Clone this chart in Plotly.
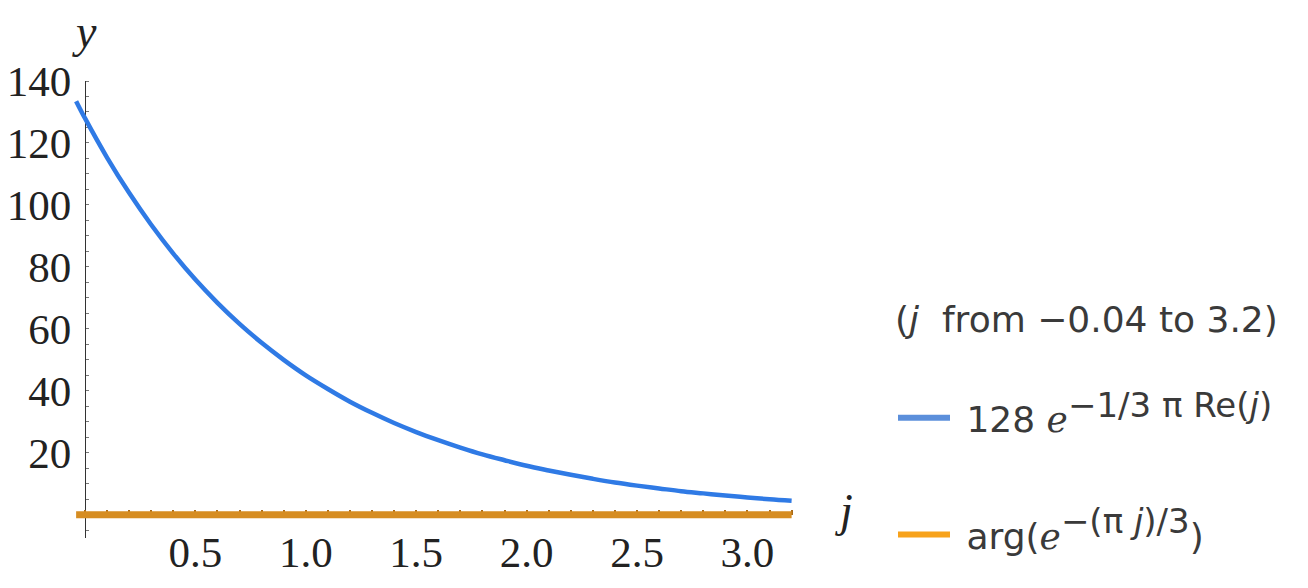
import plotly.graph_objects as go

# values
j_blue = [-0.04, 0.0, 0.1, 0.2, 0.3, 0.4, 0.5, 0.6, 0.7, 0.8, 0.9, 1.0, 1.1, 1.2, 1.3, 1.4,
          1.5, 1.6, 1.7, 1.8, 1.9, 2.0, 2.1, 2.2, 2.3, 2.4, 2.5, 2.6, 2.7, 2.8, 2.9, 3.0, 3.1, 3.2]
y_blue = [133.5, 128.0, 115.3, 103.9, 93.6, 84.3, 75.9, 68.4, 61.6, 55.5, 50.0, 45.0, 40.6, 36.5,
          32.9, 29.6, 26.7, 24.1, 21.7, 19.5, 17.6, 15.8, 14.3, 12.9, 11.6, 10.4, 9.4, 8.5, 7.6,
          6.9, 6.2, 5.6, 5.0, 4.5]
j_orange = [-0.04, 3.2]
y_orange = [0.0, 0.0]

x_ticks = [0.5, 1.0, 1.5, 2.0, 2.5, 3.0]
x_tick_labels = ["0.5", "1.0", "1.5", "2.0", "2.5", "3.0"]
x_minor_ticks = [0.0, 0.1, 0.2, 0.3, 0.4, 0.6, 0.7, 0.8, 0.9, 1.1, 1.2, 1.3, 1.4, 1.6, 1.7, 1.8, 1.9,
                 2.1, 2.2, 2.3, 2.4, 2.6, 2.7, 2.8, 2.9, 3.1, 3.2]
y_ticks = [20, 40, 60, 80, 100, 120, 140]
y_tick_labels = ["20", "40", "60", "80", "100", "120", "140"]

SUP = '<span style="font-size:34px">'
legend_title = '<span style="font-size:36px">(<i>j</i>  from −0.04 to 3.2)</span><br> '
name_blue = " 128 ℯ<sup>" + SUP + "−1/3 π Re(<i>j</i>)</span></sup>"
name_orange = " arg(ℯ<sup>" + SUP + "−(π <i>j</i>)/3</span></sup>)"

xr = [-0.113, 3.238]
yr = [-7.5, 140]

fig = go.Figure()
fig.add_trace(go.Scatter(x=j_blue, y=y_blue, mode="lines", line=dict(color="#2f7ae5", width=4.5, shape="spline"),
                         showlegend=False, hoverinfo="skip"))
fig.add_trace(go.Scatter(x=j_orange, y=y_orange, mode="lines", line=dict(color="#d68d22", width=7),
                         showlegend=False, hoverinfo="skip"))
# legend entries
fig.add_trace(go.Scatter(x=[None], y=[None], mode="lines", name=name_blue, legendgroup="a",
                         line=dict(color="#5b8fdb", width=6)))
fig.add_trace(go.Scatter(x=[None], y=[None], mode="lines", name=name_orange, legendgroup="b",
                         line=dict(color="#f7a21b", width=6)))

tickfont = dict(family="Liberation Serif", size=43, color="#222")
legfont = dict(family="DejaVu Sans", size=36, color="#3a3a3a")
fig.update_layout(
    template="none",
    width=1308, height=588,
    margin=dict(l=60, r=508, t=81, b=50, autoexpand=False),
    paper_bgcolor="white", plot_bgcolor="white",
    xaxis=dict(range=xr, anchor="free", position=(0 - yr[0]) / (yr[1] - yr[0]), automargin=False,
               tickvals=x_ticks, ticktext=x_tick_labels, tickfont=tickfont,
               showgrid=False, zeroline=False, showline=False,
               ticks="inside", ticklen=5, tickcolor="#a86a18", tickwidth=1.5,
               minor=dict(tickvals=x_minor_ticks, ticks="inside", ticklen=5, tickcolor="#a86a18", tickwidth=1.5),
               ticklabelstandoff=8, layer="below traces"),
    yaxis=dict(range=yr, anchor="free", position=(0 - xr[0]) / (xr[1] - xr[0]), automargin=False,
               tickvals=y_ticks, ticktext=y_tick_labels, tickfont=tickfont,
               showgrid=False, zeroline=False, showline=True, linecolor="#333", linewidth=1.3,
               ticks="", minor=dict(dtick=5, ticks="inside", ticklen=3, tickcolor="#777", tickwidth=1),
               ticklabelstandoff=5, layer="below traces"),
    legend=dict(x=(893 - 60) / 740, xanchor="left", y=1 - (276 - 81) / 457, yanchor="top",
                title=dict(text=legend_title, font=dict(family="DejaVu Sans", size=43, color="#3a3a3a")),
                font=legfont, tracegroupgap=67, itemwidth=52, bgcolor="rgba(0,0,0,0)"),
    annotations=[
        dict(text="<i>y</i>", xref="x", yref="paper", x=0, y=1, yanchor="bottom", xanchor="center",
             yshift=22, showarrow=False, font=dict(family="Liberation Serif", size=46, color="#222")),
        dict(text="<i>j</i>", xref="paper", yref="y", x=1.0, y=0, xanchor="left", yanchor="middle",
             xshift=33, yshift=4, showarrow=False, font=dict(family="Liberation Serif", size=46, color="#222")),
    ],
)

fig.write_html("out.html", config={"displayModeBar": False},
               post_script="document.body.style.margin='0';")
